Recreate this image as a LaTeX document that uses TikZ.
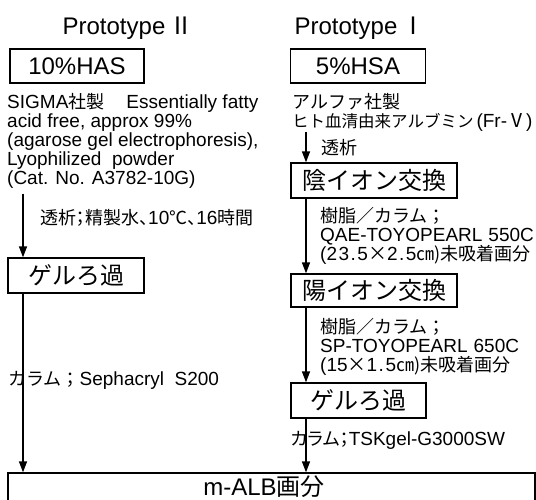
\documentclass[tikz,border=0pt]{standalone}
\usepackage{fontspec}
\setmainfont{Liberation Sans}
\newfontfamily\jp{Noto Sans CJK JP}
\newfontfamily\jpp[RawFeature=+palt]{Noto Sans CJK JP}
\usetikzlibrary{arrows.meta}
\begin{document}
\begin{tikzpicture}[x=1pt,y=-1pt,
  titletext/.style={font=\fontsize{24}{26}\selectfont, inner sep=0pt},
  bigbox/.style={draw, line width=1.3pt, font=\fontsize{24}{26}\selectfont, inner sep=0pt},
  body/.style={font=\fontsize{19}{19}\selectfont, inner sep=0pt, align=left},
  arr/.style={line width=1.4pt, -{Triangle[length=11pt,width=8pt]}}]
\useasboundingbox (0,0) rectangle (536,500);
% titles
\node[titletext] (t2) at (128,28) {Prototype\,{\jp Ⅱ}};
\node[titletext] (t1) at (360,28) {Prototype\,{\jp Ⅰ}};
% left column
\node[bigbox, minimum width=134pt, minimum height=34pt] (has) at (77,66) {10\%HAS};
\node[body, anchor=north west] (desc2) at (7,93) {SIGMA{\fontsize{18}{19}\jp 社製　}\hspace{4pt}Essentially fatty\\acid free, approx 99\%\\(agarose gel electrophoresis),\\Lyophilized\ \ powder\\(Cat. No. A3782-10G)};
\coordinate (a2) at (23,194);
\node[bigbox, minimum width=136pt, minimum height=35pt] (gel2) at (76,275.5) {\jp ゲルろ過};
\node[body, anchor=west] (lab2a) at (40,218) {{\fontsize{18}{19}\jpp 透析；精製水、}10{\fontsize{18}{19}\jpp ℃、}16{\fontsize{18}{19}\jp 時間}};
\node[body, anchor=west] (lab2b) at (8,380) {{\fontsize{18}{19}\jp カラム；}Sephacryl\ \ S200};
% right column
\node[bigbox, minimum width=135pt, minimum height=34pt] (hsa) at (358,66) {5\%HSA};
\node[body, anchor=north west] (desc1) at (292,93) {{\fontsize{18}{19}\jp アルファ社製}\\{\fontsize{16.5}{19}\jp ヒト血清由来アルブミン}\hspace{3pt}(Fr-{\jpp Ⅴ})};
\coordinate (a1) at (306,132);
\node[body, anchor=west] (lab1a) at (321,148) {\fontsize{18}{19}\jp 透析};
\node[bigbox, minimum width=166pt, minimum height=35pt] (anion) at (374,180.5) {\jp 陰イオン交換};
\node[body, anchor=west] (lab1b) at (320,236) {{\fontsize{18}{19}\jp 樹脂／カラム；}\\QAE-TOYOPEARL\hspace{6pt}550C\\({\addfontfeature{LetterSpace=8}23.5}{\jp ×}{\addfontfeature{LetterSpace=8}2.5}{\fontsize{18}{19}\jp ㎝)未吸着画分}};
\node[bigbox, minimum width=166pt, minimum height=33pt] (cation) at (374,290.5) {\jp 陽イオン交換};
\node[body, anchor=west] (lab1c) at (320,347) {{\fontsize{18}{19}\jp 樹脂／カラム；}\\SP-TOYOPEARL\hspace{6pt}650C\\(15{\jp ×}{\addfontfeature{LetterSpace=8}1.5}{\fontsize{18}{19}\jp ㎝)未吸着画分}};
\node[bigbox, minimum width=135pt, minimum height=35pt] (gel1) at (358.5,400.5) {\jp ゲルろ過};
\node[body, anchor=west] (lab1d) at (291,440) {{\fontsize{18}{19}\jpp カラム；}TSKgel-G3000SW};
% bottom
\node[bigbox, minimum width=527pt, minimum height=40pt] (malb) at (271.5,493) {};
\node[font=\fontsize{24}{26}\selectfont, inner sep=0pt] (malbt) at (264,487) {m-ALB{\jp 画分}};
% arrows
\draw[arr] (a2) -- (a2 |- gel2.north);
\draw[arr] (gel2.south -| a2) -- (malb.north -| a2);
\draw[arr] (a1) -- (a1 |- anion.north);
\draw[arr] (anion.south -| a1) -- (cation.north -| a1);
\draw[arr] (cation.south -| a1) -- (gel1.north -| a1);
\draw[arr] (gel1.south -| a1) -- (malb.north -| a1);
\end{tikzpicture}
\end{document}
